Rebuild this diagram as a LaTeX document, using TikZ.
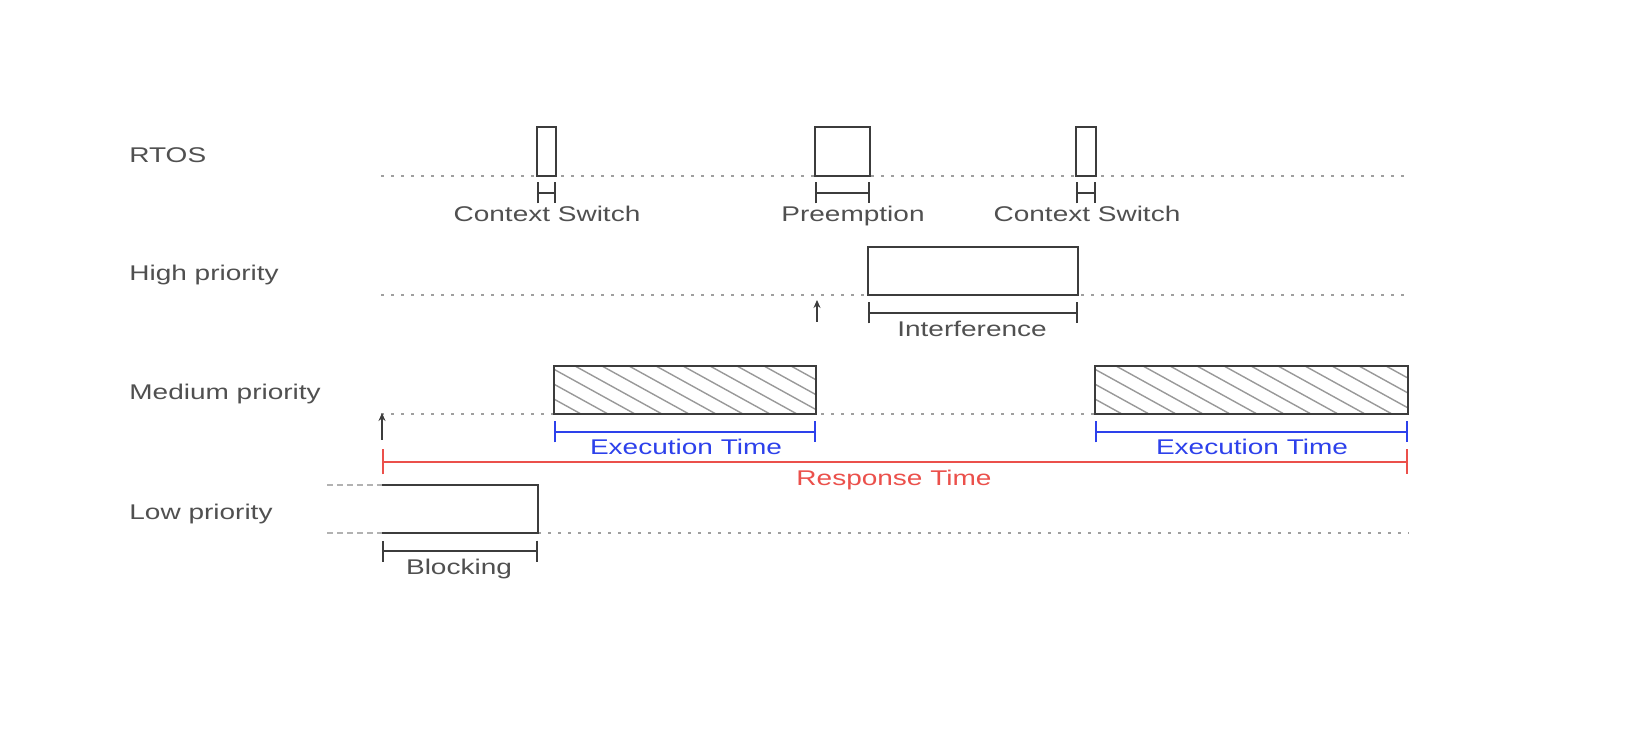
\documentclass[tikz,border=0pt]{standalone}
\usepackage{fontspec}
\setmainfont{Liberation Sans}
\usepackage{graphicx}
\usetikzlibrary{arrows.meta}
\definecolor{lineclr}{RGB}{60,60,60}
\definecolor{txtclr}{RGB}{80,80,80}
\definecolor{dimblue}{RGB}{45,65,235}
\definecolor{dimred}{RGB}{235,80,75}
\newcommand\vsq[1]{\scalebox{1}[0.76]{#1}}
\begin{document}
\begin{tikzpicture}[x=0.5pt,y=-0.5pt,
  box/.style={draw=lineclr,line width=1.2pt},
  track/.style={draw=gray!75,line width=1pt,dash pattern=on 1.5pt off 3.5pt},
  lowdash/.style={draw=gray!60,line width=1pt,dash pattern=on 3pt off 2pt},
  hatch/.style={draw=gray!80,line width=0.7pt},
  dim/.style={draw=lineclr,line width=0.9pt,{Bar[width=10.5pt]}-{Bar[width=10.5pt]}},
  dimb/.style={draw=dimblue,line width=0.9pt,{Bar[width=10.5pt]}-{Bar[width=10.5pt]}},
  dimr/.style={draw=dimred,line width=0.9pt,{Bar[width=12.5pt]}-{Bar[width=12.5pt]}},
  rel/.style={draw=lineclr,line width=0.6pt,-{Stealth[length=4pt,width=3.5pt]}},
  lbl/.style={inner sep=0pt,anchor=base,font=\fontsize{14}{16}\selectfont,text=txtclr},
  rowlbl/.style={lbl,anchor=base west}]
\useasboundingbox (0,0) rectangle (1626,742);
\fill[white] (0,0) rectangle (1626,742);

% row labels
\node[rowlbl] (lrtos) at (129,163) {\vsq{RTOS}};
\node[rowlbl] (lhigh) at (129,281) {\vsq{High priority}};
\node[rowlbl] (lmed) at (129,400) {\vsq{Medium priority}};
\node[rowlbl] (llow) at (129,519) {\vsq{Low priority}};

% time lines
\coordinate (t0s) at (381,176); \coordinate (t0e) at (1409,176);
\coordinate (t1s) at (381,295); \coordinate (t1e) at (1409,295);
\coordinate (t2s) at (381,414); \coordinate (t2e) at (1409,414);
\coordinate (t3s) at (538,533); \coordinate (t3e) at (1409,533);
\draw[track] (t0s) -- (t0e);
\draw[track] (t1s) -- (t1e);
\draw[track] (t2s) -- (t2e);
\draw[track] (t3s) -- (t3e);

% RTOS boxes
\draw[box] (537,127) rectangle (556,176);
\draw[box] (815,127) rectangle (870,176);
\draw[box] (1076,127) rectangle (1096,176);

% RTOS markers
\coordinate (cs1a) at (537,193); \coordinate (cs1b) at (556,193);
\coordinate (pra) at (815,193); \coordinate (prb) at (870,193);
\coordinate (cs2a) at (1076,193); \coordinate (cs2b) at (1096,193);
\draw[dim] (cs1a) -- (cs1b);
\draw[dim] (pra) -- (prb);
\draw[dim] (cs2a) -- (cs2b);
\node[lbl] (tcs1) at (547,222) {\vsq{Context Switch}};
\node[lbl] (tpre) at (853,222) {\vsq{Preemption}};
\node[lbl] (tcs2) at (1087,222) {\vsq{Context Switch}};

% High priority
\draw[box] (868,247) rectangle (1078,295);
\coordinate (ia) at (868,313); \coordinate (ib) at (1078,313);
\draw[dim] (ia) -- (ib);
\node[lbl] (tint) at (972,337) {\vsq{Interference}};
\coordinate (ar1a) at (817,322); \coordinate (ar1b) at (817,300);
\draw[rel] (ar1a) -- (ar1b);

% Medium priority
\begin{scope}
  \clip (554,366) rectangle (816,414);
  \foreach \i in {0,...,14} \draw[hatch] ({467+27*\i},366) -- ++(87,48);
\end{scope}
\draw[box] (554,366) rectangle (816,414);
\begin{scope}
  \clip (1095,366) rectangle (1408,414);
  \foreach \i in {0,...,16} \draw[hatch] ({1008+27*\i},366) -- ++(87,48);
\end{scope}
\draw[box] (1095,366) rectangle (1408,414);
\coordinate (e1a) at (554,432); \coordinate (e1b) at (816,432);
\coordinate (e2a) at (1095,432); \coordinate (e2b) at (1408,432);
\draw[dimb] (e1a) -- (e1b);
\draw[dimb] (e2a) -- (e2b);
\node[lbl,text=dimblue] (te1) at (686,455) {\vsq{Execution Time}};
\node[lbl,text=dimblue] (te2) at (1252,455) {\vsq{Execution Time}};
\coordinate (ra) at (382,462); \coordinate (rb) at (1408,462);
\draw[dimr] (ra) -- (rb);
\node[lbl,text=dimred] (tresp) at (894,486) {\vsq{Response Time}};
\coordinate (ar2a) at (382,440); \coordinate (ar2b) at (382,413);
\draw[rel] (ar2a) -- (ar2b);

% Low priority
\draw[lowdash] (327,485) -- (382,485);
\draw[lowdash] (327,533) -- (382,533);
\draw[box] (382,485) -- (538,485) -- (538,533) -- (382,533);
\coordinate (ba) at (382,551); \coordinate (bb) at (538,551);
\draw[dim] (ba) -- (bb);
\node[lbl] (tblk) at (459,574) {\vsq{Blocking}};
\end{tikzpicture}
\end{document}
